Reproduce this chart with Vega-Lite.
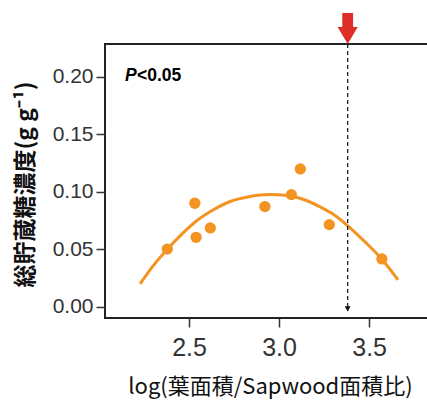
{
  "$schema": "https://vega.github.io/schema/vega-lite/v6.json",
  "autosize": "none",
  "width": 330,
  "height": 274,
  "padding": {"left": 105, "top": 44, "right": 0, "bottom": 83},
  "background": "white",
  "config": {
    "view": {"stroke": "#222", "strokeWidth": 2},
    "axis": {"domain": false, "grid": false, "tickColor": "#333", "tickWidth": 1.5, "tickSize": 9, "labelColor": "#333", "labelFont": "Liberation Sans", "titleColor": "#111"}
  },
  "datasets": {
    "pts": [
      {"x": 2.379, "y": 0.0504},
      {"x": 2.532, "y": 0.0902},
      {"x": 2.539, "y": 0.0606},
      {"x": 2.618, "y": 0.0687},
      {"x": 2.921, "y": 0.0873},
      {"x": 3.068, "y": 0.0977},
      {"x": 3.118, "y": 0.12},
      {"x": 3.279, "y": 0.0716},
      {"x": 3.571, "y": 0.0418}
    ],
    "fit": [
      {"x": 2.228, "y": 0.0200},
      {"x": 2.300, "y": 0.0357},
      {"x": 2.378, "y": 0.0500},
      {"x": 2.461, "y": 0.0635},
      {"x": 2.544, "y": 0.0752},
      {"x": 2.633, "y": 0.0843},
      {"x": 2.728, "y": 0.0917},
      {"x": 2.839, "y": 0.0961},
      {"x": 2.944, "y": 0.0978},
      {"x": 3.050, "y": 0.0970},
      {"x": 3.144, "y": 0.0930},
      {"x": 3.228, "y": 0.0870},
      {"x": 3.311, "y": 0.0796},
      {"x": 3.383, "y": 0.0704},
      {"x": 3.478, "y": 0.0565},
      {"x": 3.572, "y": 0.0413},
      {"x": 3.661, "y": 0.0235}
    ],
    "marker": [{"x": 3.381, "ytop": 0.2287, "ybot": -0.003, "yhead": -0.0017, "yarrow": 0.2422}],
    "label": [{"x": 2.144, "x2": 2.211, "y": 0.1965}]
  },
  "encoding": {
    "x": {"field": "x", "type": "quantitative", "scale": {"domain": [2.033, 3.866], "nice": false, "zero": false},
      "axis": {"values": [2.5, 3.0, 3.5], "format": ".1f", "labelFontSize": 25, "labelPadding": 8,
        "title": "log(葉面積/Sapwood面積比)", "titleFont": "Noto Sans CJK JP", "titleFontSize": 22, "titleFontWeight": "normal", "titlePadding": 16}}
  },
  "layer": [
    {
      "data": {"name": "fit"},
      "mark": {"type": "line", "color": "#F39422", "strokeWidth": 3, "interpolate": "monotone"},
      "encoding": {
        "y": {"field": "y", "type": "quantitative", "scale": {"domain": [-0.0096, 0.2287], "nice": false, "zero": false},
          "axis": {"values": [0, 0.05, 0.1, 0.15, 0.2], "format": ".2f", "labelFontSize": 21, "labelPadding": 3,
            "title": "総貯蔵糖濃度(g g⁻¹)", "titleFont": "Noto Sans CJK JP", "titleFontSize": 23, "titleFontWeight": "bold",
            "titleX": -80, "titleY": 140, "titleAlign": "center", "titleBaseline": "middle", "titleAngle": -90}}
      }
    },
    {
      "data": {"name": "pts"},
      "mark": {"type": "circle", "color": "#F39422", "opacity": 1, "size": 127},
      "encoding": {"y": {"field": "y", "type": "quantitative"}}
    },
    {
      "data": {"name": "marker"},
      "mark": {"type": "rule", "color": "#111", "strokeWidth": 1.2, "strokeDash": [4, 3]},
      "encoding": {"y": {"field": "ytop", "type": "quantitative"}, "y2": {"field": "ybot"}}
    },
    {
      "data": {"name": "marker"},
      "mark": {"type": "point", "shape": "triangle-down", "filled": true, "color": "#111", "opacity": 1, "size": 35},
      "encoding": {"y": {"field": "yhead", "type": "quantitative"}}
    },
    {
      "data": {"name": "marker"},
      "mark": {"type": "point", "shape": "M-0.35,-1L0.35,-1L0.35,-0.1L0.65,-0.1L0,1L-0.65,-0.1L-0.35,-0.1Z", "filled": true, "color": "#DD2E2A", "opacity": 1, "size": 961, "clip": false},
      "encoding": {"y": {"field": "yarrow", "type": "quantitative"}}
    },
    {
      "data": {"name": "label"},
      "mark": {"type": "text", "text": "P", "font": "Liberation Sans", "fontSize": 17.5, "fontWeight": "bold", "fontStyle": "italic", "align": "left", "baseline": "alphabetic", "color": "#000"},
      "encoding": {"y": {"field": "y", "type": "quantitative"}}
    },
    {
      "data": {"name": "label"},
      "mark": {"type": "text", "text": "<0.05", "font": "Liberation Sans", "fontSize": 17.5, "fontWeight": "bold", "align": "left", "baseline": "alphabetic", "color": "#000"},
      "encoding": {"x": {"field": "x2", "type": "quantitative"}, "y": {"field": "y", "type": "quantitative"}}
    }
  ]
}
